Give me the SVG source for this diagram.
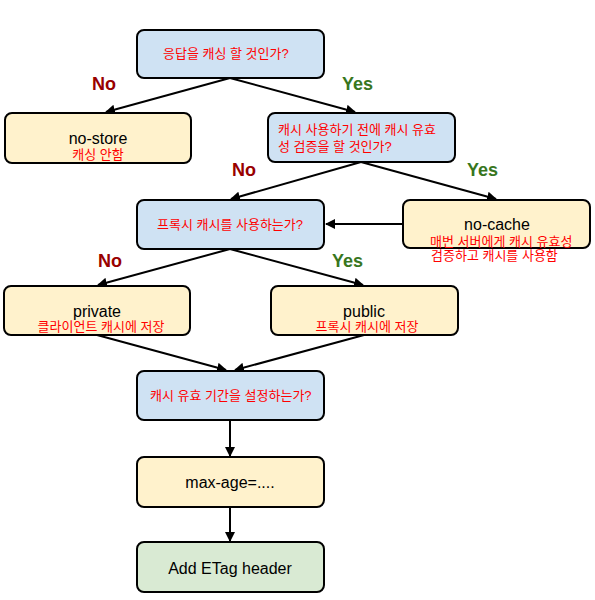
<svg xmlns="http://www.w3.org/2000/svg" width="595" height="600" viewBox="0 0 595 600">
<style>
.box{stroke:#000;stroke-width:2}
.q{fill:#cfe2f3}
.a{fill:#fff2cc}
.g{fill:#d9ead3}
.kr{font-family:"Liberation Sans","Noto Sans CJK KR",sans-serif;font-size:13px;fill:#ff0000}
.en{font-family:"Liberation Sans","Noto Sans CJK KR",sans-serif;font-size:16px;fill:#000}
.no{font-family:"Liberation Sans",sans-serif;font-size:18px;font-weight:bold;fill:#990000}
.yes{font-family:"Liberation Sans",sans-serif;font-size:18px;font-weight:bold;fill:#38761d}
.c{stroke:#000;stroke-width:2;fill:none;marker-end:url(#ah)}
</style>
<defs>
<marker id="ah" viewBox="0 0 10 10" refX="9" refY="5" markerWidth="5" markerHeight="5" orient="auto" markerUnits="strokeWidth">
<path d="M0,0 L10,5 L0,10 z" fill="#000"/>
</marker>
</defs>
<rect width="595" height="600" fill="#fff"/>
<g id="connectors">
<line class="c" x1="230" y1="78" x2="106" y2="112"/>
<line class="c" x1="230" y1="78" x2="355" y2="112"/>
<line class="c" x1="361" y1="162" x2="231" y2="199"/>
<line class="c" x1="361" y1="162" x2="496" y2="199"/>
<line class="c" x1="403" y1="224" x2="326" y2="224"/>
<line class="c" x1="230" y1="249" x2="98" y2="285"/>
<line class="c" x1="230" y1="249" x2="363" y2="285"/>
<line class="c" x1="97" y1="335" x2="226" y2="370"/>
<line class="c" x1="364" y1="335" x2="235" y2="370"/>
<line class="c" x1="230" y1="420" x2="230" y2="456"/>
<line class="c" x1="230" y1="507" x2="230" y2="541"/>
<text class="no" x="92" y="90">No</text>
<text class="yes" x="342" y="90">Yes</text>
<text class="no" x="232" y="176">No</text>
<text class="yes" x="467" y="176">Yes</text>
<text class="no" x="98" y="267">No</text>
<text class="yes" x="332" y="267">Yes</text>
</g>
<g id="n1">
<rect class="box q" x="137" y="30" width="187" height="48" rx="7"/>
<text class="kr" x="163" y="58">응답을 캐싱 할 것인가?</text>
</g>
<g id="n-nostore">
<rect class="box a" x="5" y="113" width="186" height="50" rx="7"/>
<text class="en" x="98" y="144" text-anchor="middle">no-store</text>
<text class="kr" x="98" y="159" text-anchor="middle">캐싱 안함</text>
</g>
<g id="n2">
<rect class="box q" x="268" y="113" width="187" height="49" rx="7"/>
<text class="kr" x="278" y="134">캐시 사용하기 전에 캐시 유효</text>
<text class="kr" x="278" y="151">성 검증을 할 것인가?</text>
</g>
<g id="n3">
<rect class="box q" x="137" y="200" width="187" height="49" rx="7"/>
<text class="kr" x="157" y="229">프록시 캐시를 사용하는가?</text>
</g>
<g id="n-nocache">
<rect class="box a" x="403" y="200" width="187" height="48" rx="7"/>
<text class="en" x="497" y="230" text-anchor="middle">no-cache</text>
<text class="kr" x="430" y="246">매번 서버에게 캐시 유효성</text>
<text class="kr" x="431" y="260">검증하고 캐시를 사용함</text>
</g>
<g id="n-private">
<rect class="box a" x="4" y="286" width="186" height="49" rx="7"/>
<text class="en" x="97" y="317" text-anchor="middle">private</text>
<text class="kr" x="101" y="331" text-anchor="middle">클라이언트 캐시에 저장</text>
</g>
<g id="n-public">
<rect class="box a" x="271" y="286" width="187" height="49" rx="7"/>
<text class="en" x="364" y="317" text-anchor="middle">public</text>
<text class="kr" x="367" y="331" text-anchor="middle">프록시 캐시에 저장</text>
</g>
<g id="n4">
<rect class="box q" x="137" y="371" width="187" height="49" rx="7"/>
<text class="kr" x="150" y="400">캐시 유효 기간을 설정하는가?</text>
</g>
<g id="n-maxage">
<rect class="box a" x="137" y="457" width="187" height="50" rx="7"/>
<text class="en" x="230" y="488" text-anchor="middle">max-age=....</text>
</g>
<g id="n-etag">
<rect class="box g" x="137" y="542" width="187" height="50" rx="7"/>
<text class="en" x="230" y="574" text-anchor="middle">Add ETag header</text>
</g>
</svg>
